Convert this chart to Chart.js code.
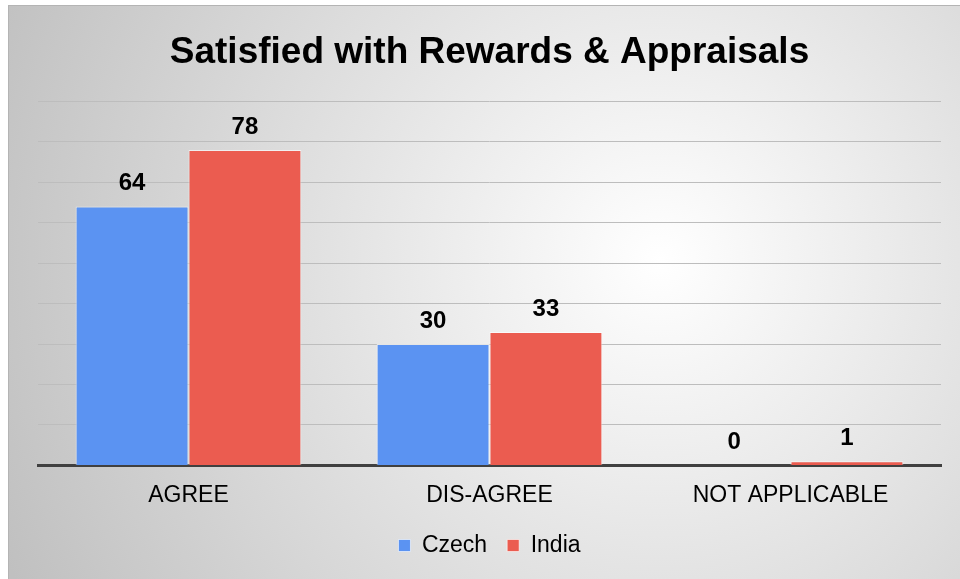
<!DOCTYPE html>
<html>
<head>
<meta charset="utf-8">
<script src="https://cdn.jsdelivr.net/npm/chart.js@4.4.1/dist/chart.umd.min.js"></script>
<style>
  html, body { margin: 0; padding: 0; background: #ffffff; }
  canvas { display: block; }
</style>
</head>
<body>
<canvas id="c" width="960" height="579"></canvas>
<script>
const categories = ['AGREE', 'DIS-AGREE', 'NOT APPLICABLE'];
const seriesNames = ['Czech', 'India'];
const czechValues = [64, 30, 0];
const indiaValues = [78, 33, 1];
const yMin = 0;
const yMax = 90;
const yStep = 10;
const chartTitle = 'Satisfied with Rewards & Appraisals';

const FONT = '"Liberation Sans", Arial, Helvetica, sans-serif';

const backgroundPlugin = {
  id: 'bgPanel',
  beforeDraw(chart) {
    const ctx = chart.ctx;
    const w = chart.width, h = chart.height;
    ctx.save();
    ctx.fillStyle = '#ffffff';
    ctx.fillRect(0, 0, w, h);
    const x0 = 8, y0 = 5;
    const g = ctx.createRadialGradient(660, 260, 0, 660, 260, 720);
    g.addColorStop(0, '#ffffff');
    g.addColorStop(1, '#c0c0c0');
    ctx.fillStyle = g;
    ctx.fillRect(x0, y0, w - x0, h - y0);
    ctx.strokeStyle = '#b4b4b4';
    ctx.lineWidth = 1;
    ctx.strokeRect(x0 + 0.5, y0 + 0.5, w - x0, h - y0);
    ctx.restore();
  }
};

const valueLabelPlugin = {
  id: 'valueLabels',
  afterDatasetsDraw(chart) {
    const ctx = chart.ctx;
    ctx.save();
    ctx.font = 'bold 24px ' + FONT;
    ctx.fillStyle = '#000000';
    ctx.textAlign = 'center';
    ctx.textBaseline = 'middle';
    chart.data.datasets.forEach((ds, i) => {
      const meta = chart.getDatasetMeta(i);
      meta.data.forEach((bar, j) => {
        ctx.fillText(String(ds.data[j]), bar.x, bar.y - 23);
      });
    });
    ctx.restore();
  }
};

new Chart(document.getElementById('c'), {
  type: 'bar',
  data: {
    labels: categories,
    datasets: [
      {
        label: seriesNames[0],
        data: czechValues,
        backgroundColor: '#5b93f2',
        borderColor: 'rgba(255,255,255,0.6)',
        borderWidth: 1,
        categoryPercentage: 0.75,
        barPercentage: 1.0
      },
      {
        label: seriesNames[1],
        data: indiaValues,
        backgroundColor: '#eb5c50',
        borderColor: 'rgba(255,255,255,0.6)',
        borderWidth: 1,
        categoryPercentage: 0.75,
        barPercentage: 1.0
      }
    ]
  },
  options: {
    responsive: false,
    devicePixelRatio: 1,
    animation: false,
    layout: { padding: { top: 5, left: 38, right: 19, bottom: 12 } },
    plugins: {
      title: {
        display: true,
        text: chartTitle,
        color: '#000000',
        font: { family: FONT, size: 37, weight: 'bold' },
        padding: { top: 26, bottom: 26 }
      },
      legend: {
        display: true,
        position: 'bottom',
        labels: {
          color: '#000000',
          font: { family: FONT, size: 23 },
          boxWidth: 12,
          boxHeight: 12,
          padding: 20,
          useBorderRadius: false
        }
      },
      tooltip: { enabled: false }
    },
    scales: {
      x: {
        grid: { display: false, drawTicks: false },
        border: { display: true, color: '#404040', width: 3 },
        ticks: {
          color: '#000000',
          font: { family: FONT, size: 23 },
          padding: 16
        },
        afterFit(scale) { scale.height -= 11; }
      },
      y: {
        min: yMin,
        max: yMax,
        ticks: { display: false, stepSize: yStep },
        grid: { color: '#bdbdbd', lineWidth: 1, drawTicks: false },
        border: { display: false }
      }
    }
  },
  plugins: [backgroundPlugin, valueLabelPlugin]
});
</script>
</body>
</html>
